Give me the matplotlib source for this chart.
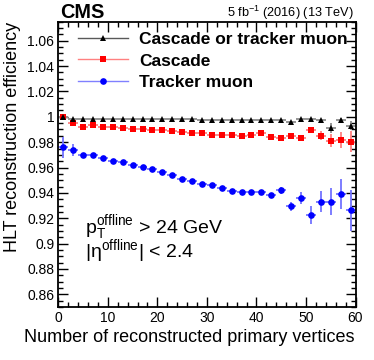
import numpy as np
import matplotlib
matplotlib.use("Agg")
import matplotlib.pyplot as plt
from matplotlib.lines import Line2D
from matplotlib.ticker import MultipleLocator, FixedLocator

plt.rcParams['font.family'] = ['Liberation Sans', 'DejaVu Sans']
plt.rcParams['mathtext.fontset'] = 'custom'
plt.rcParams['mathtext.rm'] = 'Liberation Sans'
plt.rcParams['mathtext.it'] = 'Liberation Sans:italic'
plt.rcParams['mathtext.bf'] = 'Liberation Sans:bold'

# ---- data ----
nvtx = np.arange(1, 60, 2)
eff_or = [0.9998, 0.9986, 0.9986, 0.9986, 0.9985, 0.9985, 0.9984, 0.9984, 0.9983, 0.9982,
          0.9981, 0.9981, 0.9980, 0.9980, 0.9978, 0.9978, 0.9977, 0.9977, 0.9977, 0.9977,
          0.9977, 0.9976, 0.9976, 0.9960, 0.9979, 0.9980, 0.9974, 0.9913, 0.9974, 0.9929]
err_or = [0.0005] * 22 + [0.0006, 0.0010, 0.0008, 0.0010, 0.0012, 0.0040, 0.0020, 0.0036]
eff_casc = [0.9997, 0.9949, 0.9923, 0.9934, 0.9923, 0.9918, 0.9913, 0.9905, 0.9900, 0.9897,
            0.9892, 0.9887, 0.9879, 0.9876, 0.9874, 0.9860, 0.9858, 0.9855, 0.9850, 0.9855,
            0.9876, 0.9844, 0.9830, 0.9850, 0.9831, 0.9897, 0.9850, 0.9812, 0.9815, 0.9805]
err_casc = [0.0008] * 20 + [0.0010, 0.0012, 0.0014, 0.0016, 0.0020, 0.0024, 0.0036, 0.0053, 0.0062, 0.0082]
eff_trk = [0.9758, 0.9736, 0.9697, 0.9695, 0.9679, 0.9654, 0.9640, 0.9619, 0.9605, 0.9590,
           0.9562, 0.9538, 0.9512, 0.9492, 0.9468, 0.9460, 0.9438, 0.9418, 0.9410, 0.9406,
           0.9406, 0.9383, 0.9420, 0.9294, 0.9360, 0.9225, 0.9332, 0.9330, 0.9390, 0.9263]
err_trk = [0.0080, 0.0046] + [0.0012] * 19 + [0.0015, 0.0026, 0.0037, 0.0049, 0.0069, 0.0082, 0.0105, 0.0116, 0.0160]
bin_half = 1.0

labels = ["Cascade or tracker muon", "Cascade", "Tracker muon"]

W, H = 374, 360
fig = plt.figure(figsize=(W / 100, H / 100), dpi=100)
ax = fig.add_axes([58.3 / W, 1 - 307 / H, (355.5 - 58.3) / W, (307 - 21.7) / H])

series = [
    (eff_trk, err_trk, 'o', '#0000ff', (0.45, 0.45, 1.0), 4.8),
    (eff_casc, err_casc, 's', '#ff0000', (1.0, 0.5, 0.5), 5.0),
    (eff_or, err_or, '^', '#000000', (0.55, 0.55, 0.55), 4.4),
]
for eff, err, mk, col, ecol, ms in series:
    ax.errorbar(nvtx, eff, xerr=bin_half, yerr=err, fmt=mk, color=col,
                ecolor=ecol, elinewidth=1.3, capsize=0, markersize=ms,
                markeredgewidth=0)

ax.set_xlim(0, 60)
ax.set_ylim(0.85, 1.075)
ax.xaxis.set_major_locator(MultipleLocator(10))
ax.xaxis.set_minor_locator(MultipleLocator(2))
ax.yaxis.set_major_locator(FixedLocator([0.86, 0.88, 0.90, 0.92, 0.94, 0.96, 0.98, 1.0, 1.02, 1.04, 1.06]))
ax.yaxis.set_minor_locator(MultipleLocator(0.005))
ax.set_yticklabels(['0.86', '0.88', '0.9', '0.92', '0.94', '0.96', '0.98', '1', '1.02', '1.04', '1.06'])
ax.tick_params(which='both', direction='in', top=True, right=True, width=1.0, labelsize=10, pad=3)
ax.tick_params(which='major', length=7)
ax.tick_params(which='minor', length=3.5)
for s in ax.spines.values():
    s.set_linewidth(1.3)

# legend
handles = [
    Line2D([], [], color=(0.35, 0.35, 0.35), lw=1.0, marker='^', markersize=4.4,
           markerfacecolor='k', markeredgewidth=0),
    Line2D([], [], color=(1.0, 0.5, 0.5), lw=1.0, marker='s', markersize=5.0,
           markerfacecolor='#ff0000', markeredgewidth=0),
    Line2D([], [], color=(0.5, 0.5, 1.0), lw=1.0, marker='o', markersize=4.8,
           markerfacecolor='#0000ff', markeredgewidth=0),
]
leg = ax.legend(handles, labels, loc='upper left', bbox_to_anchor=(78 / W, 1 - 32 / H),
                bbox_transform=fig.transFigure, frameon=False, borderpad=0,
                borderaxespad=0, handlelength=2.9, handletextpad=0.6, labelspacing=0.36,
                prop={'weight': 'bold', 'size': 12.5}, numpoints=1)

# texts
fig.text(60 / W, 1 - 18 / H, 'CMS', fontsize=14.3, fontweight='bold', ha='left', va='baseline')
fig.text(354 / W, 1 - 17 / H, r'5 fb$^{-1}$ (2016) (13 TeV)', fontsize=9.2, ha='right', va='baseline')
fig.text(85 / W, 1 - 257 / H,
         r'p$_{\mathrm{T}}^{\mathrm{offline}}$ > 24 GeV' + '\n' + r'|η$^{\mathrm{offline}}$| < 2.4',
         fontsize=14, ha='left', va='baseline', linespacing=0.76)
fig.text(355 / W, 1 - 342 / H, 'Number of reconstructed primary vertices', fontsize=13, ha='right', va='baseline')
fig.text(13 / W, 1 - 21.7 / H, 'HLT reconstruction efficiency', fontsize=13, rotation=90, ha='center', va='top')

fig.savefig('out.png', dpi=100)
